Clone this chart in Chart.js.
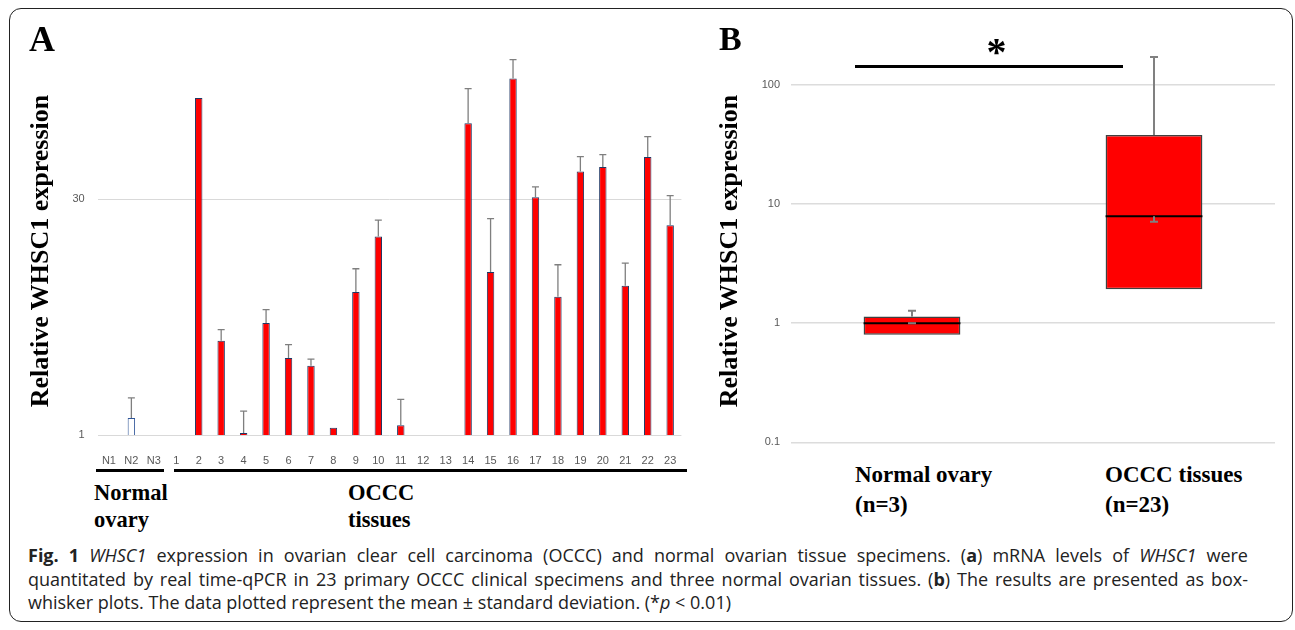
<!DOCTYPE html>
<html>
<head>
<meta charset="utf-8">
<script src="https://cdn.jsdelivr.net/npm/chart.js@4.4.1/dist/chart.umd.min.js"></script>
<style>
html,body{margin:0;padding:0;background:#fff;}
body{width:1295px;height:630px;position:relative;overflow:hidden;font-family:"Liberation Serif",serif;}
#frame{position:absolute;left:9px;top:8px;width:1284px;height:614px;border:1.5px solid #222;border-radius:12px;box-sizing:border-box;}
canvas{position:absolute;}
.serif{position:absolute;font-family:"Liberation Serif",serif;font-weight:bold;color:#000;white-space:nowrap;}
.ytitle{font-size:26px;line-height:26px;transform:translate(-50%,-50%) rotate(-90deg);}
.rule{position:absolute;background:#000;height:3px;}
.cap{position:absolute;left:28px;width:1220px;font-family:"Open Sans",sans-serif;font-size:18px;line-height:23.7px;color:#222;white-space:nowrap;}
.just{text-align:justify;text-align-last:justify;}
</style>
</head>
<body>
<div id="frame"></div>
<canvas id="chartA" width="700" height="470" style="left:0;top:0;"></canvas>
<canvas id="chartB" width="595" height="460" style="left:700px;top:0;"></canvas>

<div class="serif" style="left:29px;top:21px;font-size:36px;line-height:36px;">A</div>
<div class="serif" style="left:719px;top:21.5px;font-size:34px;line-height:34px;">B</div>

<div class="serif ytitle" style="left:40.2px;top:251px;">Relative WHSC1 expression</div>
<div class="serif ytitle" style="left:729.2px;top:251px;">Relative WHSC1 expression</div>

<div class="rule" style="left:96px;top:468.5px;width:68px;"></div>
<div class="rule" style="left:174px;top:468.5px;width:513px;"></div>
<div class="serif" style="left:94px;top:478.9px;font-size:22.5px;line-height:27px;">Normal<br>ovary</div>
<div class="serif" style="left:348px;top:478.9px;font-size:22.5px;line-height:27px;">OCCC<br>tissues</div>

<div class="rule" style="left:854.5px;top:65.2px;width:268.5px;"></div>
<div class="serif" style="left:996.5px;top:32px;font-size:40px;line-height:40px;transform:translateX(-50%);">*</div>
<div class="serif" style="left:855px;top:460.2px;font-size:23px;line-height:30px;">Normal ovary<br>(n=3)</div>
<div class="serif" style="left:1105px;top:460.2px;font-size:23px;line-height:30px;">OCCC tissues<br>(n=23)</div>

<div class="cap just" style="top:543.9px;"><b>Fig. 1</b> <i>WHSC1</i> expression in ovarian clear cell carcinoma (OCCC) and normal ovarian tissue specimens. (<b>a</b>) mRNA levels of <i>WHSC1</i> were</div>
<div class="cap just" style="top:567.6px;">quantitated by real time-qPCR in 23 primary OCCC clinical specimens and three normal ovarian tissues. (<b>b</b>) The results are presented as box-</div>
<div class="cap" style="top:591.3px;">whisker plots. The data plotted represent the mean ± standard deviation. (*<i>p</i> &lt; 0.01)</div>

<script>
// ---------- Panel A data ----------
const categoriesA = ['N1','N2','N3','1','2','3','4','5','6','7','8','9','10','11','12','13','14','15','16','17','18','19','20','21','22','23'];
// relative expression (mean); null = below the axis minimum (not visible)
const meanA = [null,1.28,null,null,129,3.90,1.03,5.03,3.04,2.72,1.11,7.87,17.5,1.15,null,null,89.8,10.5,171,30.9,7.36,44.7,47.8,8.62,55.2,20.6];
// standard deviation (upper error bar)
const sdA   = [null,0.43,null,null,0,0.67,0.38,1.07,0.64,0.27,0,3.13,4.7,0.52,null,null,58,12.2,54,4.9,4.3,10.7,9.3,3.3,18.8,11.0];
const ticksA = [1, 30];

// ---------- Panel B data ----------
const groupsB = ['Normal ovary', 'OCCC tissues'];
const q1B   = [0.80, 1.93];
const medB  = [1.0, 7.9];
const q3B   = [1.14, 38.0];
const maxB  = [1.27, 171];
const meanB = [1.0, 7.1];
const ticksB = [0.1, 1, 10, 100];

const errorBarPlugin = {
  id: 'errbars',
  afterDatasetsDraw(chart) {
    const {ctx} = chart;
    const y = chart.scales.y;
    chart.data.datasets.forEach((ds, di) => {
      if (!ds.errors) return;
      const meta = chart.getDatasetMeta(di);
      meta.data.forEach((bar, i) => {
        const v = ds.data[i], e = ds.errors[i];
        if (v == null || !e) return;
        const yTop = y.getPixelForValue(v + e);
        ctx.save();
        ctx.strokeStyle = '#7f7f7f';
        ctx.lineWidth = 1.3;
        ctx.beginPath();
        ctx.moveTo(bar.x, bar.y);
        ctx.lineTo(bar.x, yTop);
        ctx.moveTo(bar.x - 3.5, yTop);
        ctx.lineTo(bar.x + 3.5, yTop);
        ctx.stroke();
        ctx.restore();
      });
    });
  }
};

new Chart(document.getElementById('chartA'), {
  type: 'bar',
  data: {
    labels: categoriesA,
    datasets: [{
      data: meanA,
      errors: sdA,
      backgroundColor: categoriesA.map(c => c.startsWith('N') ? '#ffffff' : '#ff0000'),
      borderColor: categoriesA.map(c => c.startsWith('N') ? '#2f5597' : '#1f3864'),
      borderWidth: 1,
      borderSkipped: 'bottom',
      barPercentage: 0.33,
      categoryPercentage: 1
    }]
  },
  options: {
    responsive: false,
    animation: false,
    layout: {padding: {top: 39.6, right: 18.6, left: 0, bottom: 0}},
    plugins: {legend: {display: false}, tooltip: {enabled: false}},
    scales: {
      x: {
        grid: {display: false},
        border: {display: false},
        ticks: {font: {family: 'Liberation Sans', size: 11}, color: '#595959', padding: 11, autoSkip: false, maxRotation: 0, minRotation: 0},
        afterFit: s => { s.height = 35; }
      },
      y: {
        type: 'logarithmic',
        min: 1, max: 300,
        grid: {color: '#d9d9d9', drawTicks: false, lineWidth: 1},
        border: {display: false},
        ticks: {font: {family: 'Liberation Sans', size: 11}, color: '#595959', padding: 13, callback: v => String(v)},
        afterBuildTicks: s => { s.ticks = ticksA.map(v => ({value: v})); },
        afterFit: s => { s.width = 97.7; }
      }
    }
  },
  plugins: [errorBarPlugin]
});

const boxPlugin = {
  id: 'boxparts',
  beforeDatasetsDraw(chart) {
    const {ctx} = chart;
    const x = chart.scales.x, y = chart.scales.y;
    groupsB.forEach((g, i) => {
      const cx = x.getPixelForValue(i);
      const yq3 = y.getPixelForValue(q3B[i]);
      const ymax = y.getPixelForValue(maxB[i]);
      ctx.save();
      ctx.strokeStyle = '#808080';
      ctx.lineWidth = 2;
      ctx.beginPath();
      ctx.moveTo(cx, yq3); ctx.lineTo(cx, ymax);
      ctx.moveTo(cx - 4, ymax); ctx.lineTo(cx + 4, ymax);
      ctx.stroke();
      ctx.restore();
    });
  },
  afterDatasetsDraw(chart) {
    const {ctx} = chart;
    const x = chart.scales.x, y = chart.scales.y;
    const meta = chart.getDatasetMeta(0);
    groupsB.forEach((g, i) => {
      const bar = meta.data[i];
      const cx = x.getPixelForValue(i);
      const ym = y.getPixelForValue(medB[i]);
      const ymean = y.getPixelForValue(meanB[i]);
      ctx.save();
      ctx.strokeStyle = '#000';
      ctx.lineWidth = 2;
      ctx.beginPath();
      ctx.moveTo(cx - bar.width / 2, ym); ctx.lineTo(cx + bar.width / 2, ym);
      ctx.stroke();
      ctx.strokeStyle = '#808080';
      ctx.lineWidth = 2;
      ctx.beginPath();
      ctx.moveTo(cx, ym); ctx.lineTo(cx, ymean);
      ctx.moveTo(cx - 4, ymean); ctx.lineTo(cx + 4, ymean);
      ctx.stroke();
      ctx.restore();
    });
  }
};

new Chart(document.getElementById('chartB'), {
  type: 'bar',
  data: {
    labels: groupsB,
    datasets: [{
      data: groupsB.map((g, i) => [q1B[i], q3B[i]]),
      backgroundColor: '#ff0000',
      borderColor: '#404040',
      borderWidth: 1.5,
      borderSkipped: false,
      barPercentage: 0.4,
      categoryPercentage: 1
    }]
  },
  options: {
    responsive: false,
    animation: false,
    layout: {padding: {top: 49, right: 20, left: 0, bottom: 12.7}},
    plugins: {legend: {display: false}, tooltip: {enabled: false}},
    scales: {
      x: {display: false},
      y: {
        type: 'logarithmic',
        min: 0.1, max: 200,
        grid: {color: '#dcdcdc', drawTicks: false, lineWidth: 1.5},
        border: {display: false},
        ticks: {font: {family: 'Liberation Sans', size: 11}, color: '#595959', padding: 11, callback: v => String(v)},
        afterBuildTicks: s => { s.ticks = ticksB.map(v => ({value: v})); },
        afterFit: s => { s.width = 91; }
      }
    }
  },
  plugins: [boxPlugin]
});
</script>
</body>
</html>
